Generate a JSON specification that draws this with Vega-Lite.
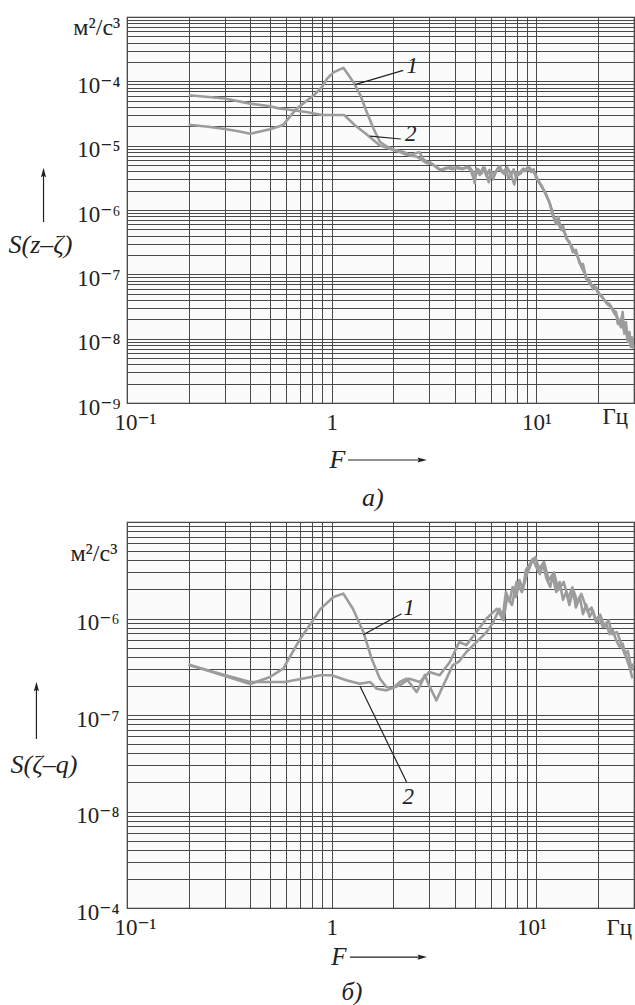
{
  "$schema": "https://vega.github.io/schema/vega-lite/v6.json",
  "padding": {"left": 7, "top": 9, "right": 0, "bottom": 0},
  "background": "white",
  "bounds": "flush",
  "spacing": 119,
  "config": {
    "view": {"stroke": "#333333", "strokeWidth": 1.2, "fill": "#fbfbfb"},
    "font": "Liberation Serif",
    "axis": {"grid": true, "gridColor": "#4a4a4a", "gridWidth": 1, "gridOpacity": 1, "ticks": false, "domain": false, "labelFont": "'Liberation Serif', 'DejaVu Serif', serif", "labelFontSize": 23, "labelColor": "#222222", "labelOverlap": false, "labelFlush": false}
  },
  "datasets": {
    "topCurves": [
      {"c": "1", "f": 0.2, "s": 2.12e-5}, {"c": "1", "f": 0.25, "s": 1.97e-5}, {"c": "1", "f": 0.3, "s": 1.82e-5}, {"c": "1", "f": 0.35, "s": 1.68e-5}, {"c": "1", "f": 0.4, "s": 1.53e-5}, {"c": "1", "f": 0.5, "s": 1.8e-5}, {"c": "1", "f": 0.58, "s": 2.1e-5}, {"c": "1", "f": 0.67, "s": 3.7e-5}, {"c": "1", "f": 0.75, "s": 4.9e-5}, {"c": "1", "f": 0.82, "s": 6.1e-5}, {"c": "1", "f": 0.9, "s": 8.3e-5}, {"c": "1", "f": 0.95, "s": 1.1e-4}, {"c": "1", "f": 1.02, "s": 1.38e-4}, {"c": "1", "f": 1.14, "s": 1.62e-4}, {"c": "1", "f": 1.22, "s": 1.2e-4}, {"c": "1", "f": 1.28, "s": 9.6e-5}, {"c": "1", "f": 1.38, "s": 6.1e-5}, {"c": "1", "f": 1.48, "s": 3.4e-5}, {"c": "1", "f": 1.6, "s": 1.85e-5}, {"c": "1", "f": 1.72, "s": 1.15e-5}, {"c": "1", "f": 1.85, "s": 9.8e-6}, {"c": "1", "f": 1.97, "s": 9.0e-6}, {"c": "1", "f": 2.1, "s": 8.3e-6}, {"c": "1", "f": 2.25, "s": 8.0e-6}, {"c": "1", "f": 2.43, "s": 7.1e-6}, {"c": "1", "f": 2.55, "s": 7.6e-6}, {"c": "1", "f": 2.69, "s": 7.9e-6}, {"c": "1", "f": 2.8, "s": 6.2e-6}, {"c": "1", "f": 2.91, "s": 5.6e-6}, {"c": "1", "f": 3.02, "s": 5.5e-6}, {"c": "1", "f": 3.14, "s": 5.0e-6}, {"c": "1", "f": 3.27, "s": 4.6e-6}, {"c": "1", "f": 3.39, "s": 4.15e-6}, {"c": "1", "f": 3.6, "s": 4.5e-6}, {"c": "1", "f": 3.78, "s": 4.6e-6}, {"c": "1", "f": 4.0, "s": 4.5e-6}, {"c": "1", "f": 4.22, "s": 4.4e-6}, {"c": "1", "f": 4.45, "s": 4.5e-6}, {"c": "1", "f": 4.73, "s": 4.6e-6}, {"c": "1", "f": 4.9, "s": 3.9e-6}, {"c": "1", "f": 5.0, "s": 2.6e-6}, {"c": "1", "f": 5.1, "s": 4.4e-6}, {"c": "1", "f": 5.29, "s": 3.5e-6}, {"c": "1", "f": 5.5, "s": 4.6e-6}, {"c": "1", "f": 5.7, "s": 3.4e-6}, {"c": "1", "f": 5.9, "s": 4.2e-6}, {"c": "1", "f": 6.14, "s": 3.0e-6}, {"c": "1", "f": 6.38, "s": 4.1e-6}, {"c": "1", "f": 6.62, "s": 4.8e-6}, {"c": "1", "f": 6.85, "s": 3.8e-6}, {"c": "1", "f": 7.11, "s": 4.4e-6}, {"c": "1", "f": 7.3, "s": 3.1e-6}, {"c": "1", "f": 7.54, "s": 3.5e-6}, {"c": "1", "f": 7.75, "s": 4.3e-6}, {"c": "1", "f": 7.93, "s": 3.3e-6}, {"c": "1", "f": 8.27, "s": 3.6e-6}, {"c": "1", "f": 8.5, "s": 4.2e-6}, {"c": "1", "f": 8.76, "s": 4.0e-6}, {"c": "1", "f": 9.1, "s": 4.7e-6}, {"c": "1", "f": 9.44, "s": 3.9e-6}, {"c": "1", "f": 9.7, "s": 4.3e-6}, {"c": "1", "f": 10.0, "s": 3.1e-6}, {"c": "1", "f": 10.6, "s": 2.4e-6}, {"c": "1", "f": 11.2, "s": 1.7e-6}, {"c": "1", "f": 11.7, "s": 1.2e-6}, {"c": "1", "f": 12.0, "s": 8.4e-7}, {"c": "1", "f": 12.5, "s": 6.0e-7}, {"c": "1", "f": 12.8, "s": 7.8e-7}, {"c": "1", "f": 13.2, "s": 4.9e-7}, {"c": "1", "f": 13.5, "s": 5.6e-7}, {"c": "1", "f": 14.0, "s": 3.6e-7}, {"c": "1", "f": 14.5, "s": 3.2e-7}, {"c": "1", "f": 15.1, "s": 2.2e-7}, {"c": "1", "f": 15.6, "s": 2.4e-7}, {"c": "1", "f": 16.3, "s": 1.46e-7}, {"c": "1", "f": 16.9, "s": 1.45e-7}, {"c": "1", "f": 17.5, "s": 8.5e-8}, {"c": "1", "f": 18.2, "s": 8.2e-8}, {"c": "1", "f": 18.9, "s": 5.9e-8}, {"c": "1", "f": 19.6, "s": 6.3e-8}, {"c": "1", "f": 20.4, "s": 4.8e-8}, {"c": "1", "f": 21.1, "s": 4.3e-8}, {"c": "1", "f": 21.9, "s": 3.7e-8}, {"c": "1", "f": 22.8, "s": 3.45e-8}, {"c": "1", "f": 23.6, "s": 2.8e-8}, {"c": "1", "f": 24.5, "s": 2.6e-8}, {"c": "1", "f": 25.0, "s": 1.7e-8}, {"c": "1", "f": 25.5, "s": 1.95e-8}, {"c": "1", "f": 25.9, "s": 1.5e-8}, {"c": "1", "f": 26.4, "s": 2.6e-8}, {"c": "1", "f": 26.9, "s": 1.2e-8}, {"c": "1", "f": 27.4, "s": 1.8e-8}, {"c": "1", "f": 28.0, "s": 8.9e-9}, {"c": "1", "f": 28.5, "s": 1.27e-8}, {"c": "1", "f": 29.0, "s": 7.4e-9}, {"c": "1", "f": 29.5, "s": 9.5e-9},
      {"c": "2", "f": 0.2, "s": 6.07e-5}, {"c": "2", "f": 0.25, "s": 5.7e-5}, {"c": "2", "f": 0.3, "s": 5.4e-5}, {"c": "2", "f": 0.4, "s": 4.5e-5}, {"c": "2", "f": 0.5, "s": 4.1e-5}, {"c": "2", "f": 0.55, "s": 3.8e-5}, {"c": "2", "f": 0.65, "s": 3.55e-5}, {"c": "2", "f": 0.75, "s": 3.33e-5}, {"c": "2", "f": 0.9, "s": 3.0e-5}, {"c": "2", "f": 1.0, "s": 3.0e-5}, {"c": "2", "f": 1.15, "s": 3.0e-5}, {"c": "2", "f": 1.3, "s": 2.07e-5}, {"c": "2", "f": 1.5, "s": 1.45e-5}, {"c": "2", "f": 1.72, "s": 1.01e-5}, {"c": "2", "f": 1.9, "s": 9.0e-6}, {"c": "2", "f": 2.15, "s": 8.0e-6}, {"c": "2", "f": 2.3, "s": 7.3e-6}, {"c": "2", "f": 2.43, "s": 7.0e-6}, {"c": "2", "f": 2.6, "s": 6.8e-6}, {"c": "2", "f": 2.75, "s": 6.0e-6}, {"c": "2", "f": 2.9, "s": 5.4e-6}, {"c": "2", "f": 3.1, "s": 5.2e-6}, {"c": "2", "f": 3.3, "s": 4.4e-6}, {"c": "2", "f": 3.5, "s": 4.2e-6}, {"c": "2", "f": 3.7, "s": 4.5e-6}, {"c": "2", "f": 3.9, "s": 4.3e-6}, {"c": "2", "f": 4.1, "s": 4.7e-6}, {"c": "2", "f": 4.35, "s": 4.3e-6}, {"c": "2", "f": 4.6, "s": 4.7e-6}, {"c": "2", "f": 4.8, "s": 4.0e-6}, {"c": "2", "f": 4.95, "s": 3.0e-6}, {"c": "2", "f": 5.2, "s": 4.3e-6}, {"c": "2", "f": 5.4, "s": 3.7e-6}, {"c": "2", "f": 5.6, "s": 4.5e-6}, {"c": "2", "f": 5.85, "s": 2.7e-6}, {"c": "2", "f": 6.0, "s": 4.0e-6}, {"c": "2", "f": 6.25, "s": 3.6e-6}, {"c": "2", "f": 6.5, "s": 4.5e-6}, {"c": "2", "f": 6.75, "s": 4.0e-6}, {"c": "2", "f": 7.0, "s": 3.6e-6}, {"c": "2", "f": 7.2, "s": 4.6e-6}, {"c": "2", "f": 7.45, "s": 3.8e-6}, {"c": "2", "f": 7.8, "s": 2.5e-6}, {"c": "2", "f": 8.1, "s": 3.9e-6}, {"c": "2", "f": 8.4, "s": 3.7e-6}, {"c": "2", "f": 8.65, "s": 4.4e-6}, {"c": "2", "f": 8.95, "s": 4.1e-6}, {"c": "2", "f": 9.3, "s": 4.5e-6}, {"c": "2", "f": 9.6, "s": 4.0e-6}, {"c": "2", "f": 9.9, "s": 3.6e-6}, {"c": "2", "f": 10.3, "s": 2.7e-6}, {"c": "2", "f": 10.9, "s": 2.0e-6}, {"c": "2", "f": 11.5, "s": 1.4e-6}, {"c": "2", "f": 11.9, "s": 1.0e-6}, {"c": "2", "f": 12.3, "s": 7.2e-7}, {"c": "2", "f": 12.7, "s": 7.0e-7}, {"c": "2", "f": 13.0, "s": 5.5e-7}, {"c": "2", "f": 13.4, "s": 5.0e-7}, {"c": "2", "f": 13.8, "s": 4.3e-7}, {"c": "2", "f": 14.3, "s": 3.3e-7}, {"c": "2", "f": 14.8, "s": 2.8e-7}, {"c": "2", "f": 15.3, "s": 2.3e-7}, {"c": "2", "f": 15.9, "s": 1.9e-7}, {"c": "2", "f": 16.6, "s": 1.3e-7}, {"c": "2", "f": 17.2, "s": 1.05e-7}, {"c": "2", "f": 17.8, "s": 8.0e-8}, {"c": "2", "f": 18.5, "s": 6.8e-8}, {"c": "2", "f": 19.2, "s": 6.6e-8}, {"c": "2", "f": 20.0, "s": 5.2e-8}, {"c": "2", "f": 20.8, "s": 4.6e-8}, {"c": "2", "f": 21.5, "s": 4.0e-8}, {"c": "2", "f": 22.3, "s": 3.4e-8}, {"c": "2", "f": 23.2, "s": 3.1e-8}, {"c": "2", "f": 24.0, "s": 2.5e-8}, {"c": "2", "f": 24.8, "s": 2.2e-8}, {"c": "2", "f": 25.3, "s": 1.8e-8}, {"c": "2", "f": 25.7, "s": 1.6e-8}, {"c": "2", "f": 26.2, "s": 2.2e-8}, {"c": "2", "f": 26.7, "s": 1.4e-8}, {"c": "2", "f": 27.2, "s": 1.6e-8}, {"c": "2", "f": 27.8, "s": 1.0e-8}, {"c": "2", "f": 28.3, "s": 1.1e-8}, {"c": "2", "f": 28.8, "s": 8.0e-9}, {"c": "2", "f": 29.3, "s": 1.05e-8}, {"c": "2", "f": 29.8, "s": 7.0e-9}
    ],
    "botCurves": [
      {"c": "1", "f": 0.2, "s": 3.33e-7}, {"c": "1", "f": 0.28, "s": 2.66e-7}, {"c": "1", "f": 0.4, "s": 2.09e-7}, {"c": "1", "f": 0.5, "s": 2.48e-7}, {"c": "1", "f": 0.58, "s": 3.02e-7}, {"c": "1", "f": 0.7, "s": 6.1e-7}, {"c": "1", "f": 0.79, "s": 8.8e-7}, {"c": "1", "f": 0.88, "s": 1.25e-6}, {"c": "1", "f": 1.02, "s": 1.67e-6}, {"c": "1", "f": 1.14, "s": 1.81e-6}, {"c": "1", "f": 1.27, "s": 1.26e-6}, {"c": "1", "f": 1.43, "s": 7.2e-7}, {"c": "1", "f": 1.57, "s": 3.8e-7}, {"c": "1", "f": 1.72, "s": 2.38e-7}, {"c": "1", "f": 1.85, "s": 1.95e-7}, {"c": "1", "f": 2.0, "s": 1.9e-7}, {"c": "1", "f": 2.15, "s": 2.2e-7}, {"c": "1", "f": 2.32, "s": 2.38e-7}, {"c": "1", "f": 2.47, "s": 2.0e-7}, {"c": "1", "f": 2.6, "s": 1.73e-7}, {"c": "1", "f": 2.73, "s": 2.1e-7}, {"c": "1", "f": 2.85, "s": 2.6e-7}, {"c": "1", "f": 3.0, "s": 2.0e-7}, {"c": "1", "f": 3.25, "s": 1.42e-7}, {"c": "1", "f": 3.42, "s": 1.8e-7}, {"c": "1", "f": 3.64, "s": 2.38e-7}, {"c": "1", "f": 3.9, "s": 3.27e-7}, {"c": "1", "f": 4.2, "s": 3.6e-7}, {"c": "1", "f": 4.55, "s": 4.5e-7}, {"c": "1", "f": 5.1, "s": 5.7e-7}, {"c": "1", "f": 5.7, "s": 7.2e-7}, {"c": "1", "f": 6.1, "s": 8.8e-7}, {"c": "1", "f": 6.6, "s": 1.26e-6}, {"c": "1", "f": 6.85, "s": 1.04e-6}, {"c": "1", "f": 7.1, "s": 1.88e-6}, {"c": "1", "f": 7.4, "s": 1.5e-6}, {"c": "1", "f": 7.66, "s": 2.12e-6}, {"c": "1", "f": 7.97, "s": 1.67e-6}, {"c": "1", "f": 8.27, "s": 2.5e-6}, {"c": "1", "f": 8.6, "s": 2.0e-6}, {"c": "1", "f": 8.9, "s": 3.2e-6}, {"c": "1", "f": 9.3, "s": 3.67e-6}, {"c": "1", "f": 9.6, "s": 4.14e-6}, {"c": "1", "f": 10.0, "s": 3.4e-6}, {"c": "1", "f": 10.4, "s": 2.89e-6}, {"c": "1", "f": 10.8, "s": 3.6e-6}, {"c": "1", "f": 11.2, "s": 2.6e-6}, {"c": "1", "f": 11.7, "s": 2.12e-6}, {"c": "1", "f": 12.0, "s": 2.8e-6}, {"c": "1", "f": 12.5, "s": 1.88e-6}, {"c": "1", "f": 13.0, "s": 2.39e-6}, {"c": "1", "f": 13.5, "s": 1.56e-6}, {"c": "1", "f": 14.0, "s": 1.9e-6}, {"c": "1", "f": 14.5, "s": 1.38e-6}, {"c": "1", "f": 15.1, "s": 1.97e-6}, {"c": "1", "f": 15.6, "s": 1.3e-6}, {"c": "1", "f": 16.3, "s": 1.67e-6}, {"c": "1", "f": 16.9, "s": 1.11e-6}, {"c": "1", "f": 17.5, "s": 1.4e-6}, {"c": "1", "f": 18.2, "s": 1.04e-6}, {"c": "1", "f": 18.9, "s": 1.2e-6}, {"c": "1", "f": 19.6, "s": 9.2e-7}, {"c": "1", "f": 20.4, "s": 1.0e-6}, {"c": "1", "f": 21.1, "s": 8.2e-7}, {"c": "1", "f": 21.9, "s": 9.0e-7}, {"c": "1", "f": 22.8, "s": 6.9e-7}, {"c": "1", "f": 23.6, "s": 7.6e-7}, {"c": "1", "f": 24.5, "s": 6.0e-7}, {"c": "1", "f": 25.5, "s": 5.1e-7}, {"c": "1", "f": 26.4, "s": 5.5e-7}, {"c": "1", "f": 27.4, "s": 4.0e-7}, {"c": "1", "f": 28.5, "s": 3.15e-7}, {"c": "1", "f": 29.5, "s": 2.4e-7},
      {"c": "2", "f": 0.2, "s": 3.3e-7}, {"c": "2", "f": 0.4, "s": 2.2e-7}, {"c": "2", "f": 0.59, "s": 2.2e-7}, {"c": "2", "f": 0.88, "s": 2.58e-7}, {"c": "2", "f": 1.0, "s": 2.58e-7}, {"c": "2", "f": 1.18, "s": 2.29e-7}, {"c": "2", "f": 1.37, "s": 2.11e-7}, {"c": "2", "f": 1.54, "s": 2.2e-7}, {"c": "2", "f": 1.66, "s": 1.87e-7}, {"c": "2", "f": 1.85, "s": 1.8e-7}, {"c": "2", "f": 2.15, "s": 2.03e-7}, {"c": "2", "f": 2.4, "s": 2.38e-7}, {"c": "2", "f": 2.7, "s": 2.2e-7}, {"c": "2", "f": 3.0, "s": 2.79e-7}, {"c": "2", "f": 3.37, "s": 2.58e-7}, {"c": "2", "f": 3.78, "s": 3.54e-7}, {"c": "2", "f": 4.2, "s": 5.7e-7}, {"c": "2", "f": 4.55, "s": 5.3e-7}, {"c": "2", "f": 5.1, "s": 7.24e-7}, {"c": "2", "f": 5.7, "s": 9.95e-7}, {"c": "2", "f": 6.4, "s": 1.26e-6}, {"c": "2", "f": 6.9, "s": 9.6e-7}, {"c": "2", "f": 7.2, "s": 1.67e-6}, {"c": "2", "f": 7.6, "s": 1.38e-6}, {"c": "2", "f": 8.0, "s": 2.39e-6}, {"c": "2", "f": 8.5, "s": 1.88e-6}, {"c": "2", "f": 9.0, "s": 2.89e-6}, {"c": "2", "f": 9.5, "s": 3.85e-6}, {"c": "2", "f": 9.9, "s": 4.33e-6}, {"c": "2", "f": 10.3, "s": 3.27e-6}, {"c": "2", "f": 10.9, "s": 3.85e-6}, {"c": "2", "f": 11.5, "s": 2.5e-6}, {"c": "2", "f": 12.2, "s": 3.0e-6}, {"c": "2", "f": 12.8, "s": 1.97e-6}, {"c": "2", "f": 13.6, "s": 2.39e-6}, {"c": "2", "f": 14.3, "s": 1.63e-6}, {"c": "2", "f": 15.0, "s": 2.1e-6}, {"c": "2", "f": 15.9, "s": 1.48e-6}, {"c": "2", "f": 16.6, "s": 1.8e-6}, {"c": "2", "f": 17.8, "s": 1.17e-6}, {"c": "2", "f": 18.6, "s": 1.3e-6}, {"c": "2", "f": 19.5, "s": 9.65e-7}, {"c": "2", "f": 20.5, "s": 1.1e-6}, {"c": "2", "f": 21.5, "s": 8.2e-7}, {"c": "2", "f": 22.5, "s": 9.6e-7}, {"c": "2", "f": 23.5, "s": 6.9e-7}, {"c": "2", "f": 24.8, "s": 7.2e-7}, {"c": "2", "f": 26.0, "s": 5.46e-7}, {"c": "2", "f": 27.0, "s": 4.28e-7}, {"c": "2", "f": 28.0, "s": 4.6e-7}, {"c": "2", "f": 29.2, "s": 2.94e-7}, {"c": "2", "f": 29.8, "s": 3.4e-7}
    ],
    "topNotes": [
      {"t": "1", "f": 2.478, "s": 1.73e-4, "k": "c"},
      {"t": "2", "f": 2.437, "s": 1.53e-5, "k": "c"},
      {"t": "F", "f": 1.067, "s": 1.3e-10, "k": "b"},
      {"t": "a)", "f": 1.59, "s": 3.33e-11, "k": "b"},
      {"t": "S(z–ζ)", "f": 0.02636, "s": 2.86e-7, "k": "l"},
      {"t": "м²/с³", "f": 0.0927, "s": 6.74e-4, "k": "r"}
    ],
    "topRules": [
      {"f": 1.3, "s": 8.87e-5, "f2": 2.236, "s2": 1.48e-4},
      {"f": 1.538, "s": 1.41e-5, "f2": 2.178, "s2": 1.27e-5},
      {"f": 0.0391, "s": 6.5e-7, "f2": 0.0391, "s2": 3.63e-6},
      {"f": 1.201, "s": 1.3e-10, "f2": 2.727, "s2": 1.3e-10}
    ],
    "topHeads": [
      {"f": 0.0391, "s": 3.63e-6, "d": "up"},
      {"f": 2.727, "s": 1.3e-10, "d": "right"}
    ],
    "botNotes": [
      {"t": "1", "f": 2.384, "s": 1.285e-6, "k": "c"},
      {"t": "2", "f": 2.364, "s": 1.41e-8, "k": "c"},
      {"t": "F", "f": 1.085, "s": 3.1e-10, "k": "b"},
      {"t": "б)", "f": 1.256, "s": 1.34e-10, "k": "b"},
      {"t": "S(ζ–q)", "f": 0.027, "s": 3.03e-8, "k": "l"},
      {"t": "м²/с³", "f": 0.0897, "s": 4.66e-6, "k": "r"}
    ],
    "botRules": [
      {"f": 1.426, "s": 6.79e-7, "f2": 2.195, "s2": 1.12e-6},
      {"f": 1.374, "s": 2.0e-7, "f2": 2.322, "s2": 2.02e-8},
      {"f": 0.0361, "s": 5.64e-8, "f2": 0.0361, "s2": 1.905e-7},
      {"f": 1.228, "s": 3.1e-10, "f2": 2.727, "s2": 3.1e-10}
    ],
    "botHeads": [
      {"f": 0.0361, "s": 1.905e-7, "d": "up"},
      {"f": 2.727, "s": 3.1e-10, "d": "right"}
    ]
  },
  "vconcat": [
    {
      "width": 507,
      "height": 386,
      "layer": [
        {
          "data": {"name": "topCurves"},
          "mark": {"type": "line", "color": "#9c9c9c", "strokeWidth": 2.6, "strokeJoin": "round"},
          "encoding": {
            "x": {"field": "f", "type": "quantitative", "scale": {"type": "log", "domain": [0.1, 30], "nice": false},
              "axis": {"title": null, "values": [0.1, 0.2, 0.3, 0.4, 0.5, 0.6, 0.7, 0.8, 0.9, 1, 2, 3, 4, 5, 6, 7, 8, 9, 10, 20, 30],
                "labelExpr": "datum.value == 0.1 ? '10⁻¹' : datum.value == 1 ? '1' : datum.value == 10 ? '10¹' : datum.value == 20 ? 'Гц' : ''",
                "labelBaseline": "top",
                "labelAlign": {"condition": {"test": "datum.value == 20", "value": "left"}, "value": "center"},
                "labelOffset": {"condition": [{"test": "datum.value == 0.1", "value": 8}, {"test": "datum.value == 20", "value": 4}], "value": 0},
                "labelPadding": {"condition": {"test": "datum.value == 20", "value": 2}, "value": 8}}},
            "y": {"field": "s", "type": "quantitative", "scale": {"type": "log", "domain": [1e-9, 1e-3], "nice": false},
              "axis": {"title": null, "values": [1e-9, 2e-9, 3e-9, 4e-9, 5e-9, 6e-9, 7e-9, 8e-9, 9e-9, 1e-8, 2e-8, 3e-8, 4e-8, 5e-8, 6e-8, 7e-8, 8e-8, 9e-8, 1e-7, 2e-7, 3e-7, 4e-7, 5e-7, 6e-7, 7e-7, 8e-7, 9e-7, 1e-6, 2e-6, 3e-6, 4e-6, 5e-6, 6e-6, 7e-6, 8e-6, 9e-6, 1e-5, 2e-5, 3e-5, 4e-5, 5e-5, 6e-5, 7e-5, 8e-5, 9e-5, 1e-4, 2e-4, 3e-4, 4e-4, 5e-4, 6e-4, 7e-4, 8e-4, 9e-4, 1e-3],
                "labelExpr": "datum.value == 1e-4 ? '10⁻⁴' : datum.value == 1e-5 ? '10⁻⁵' : datum.value == 1e-6 ? '10⁻⁶' : datum.value == 1e-7 ? '10⁻⁷' : datum.value == 1e-8 ? '10⁻⁸' : datum.value == 1e-9 ? '10⁻⁹' : ''",
                "labelBaseline": "alphabetic", "labelOffset": 11, "labelPadding": 7}},
            "detail": {"field": "c", "type": "nominal"}
          }
        },
        {
          "data": {"name": "topRules"},
          "mark": {"type": "rule", "color": "#222222", "strokeWidth": 1.2, "clip": false},
          "encoding": {
            "x": {"field": "f", "type": "quantitative", "scale": {"type": "log", "domain": [0.1, 30], "nice": false}},
            "y": {"field": "s", "type": "quantitative", "scale": {"type": "log", "domain": [1e-9, 1e-3], "nice": false}},
            "x2": {"field": "f2"},
            "y2": {"field": "s2"}
          }
        },
        {
          "data": {"name": "topHeads"},
          "transform": [{"filter": "datum.d == 'up'"}],
          "mark": {"type": "point", "shape": "M0,-1L0.42,0.55L0,0.3L-0.42,0.55Z", "size": 150, "filled": true, "color": "#222222", "opacity": 1, "clip": false},
          "encoding": {
            "x": {"field": "f", "type": "quantitative", "scale": {"type": "log", "domain": [0.1, 30], "nice": false}},
            "y": {"field": "s", "type": "quantitative", "scale": {"type": "log", "domain": [1e-9, 1e-3], "nice": false}}
          }
        },
        {
          "data": {"name": "topHeads"},
          "transform": [{"filter": "datum.d == 'right'"}],
          "mark": {"type": "point", "shape": "M1,0L-0.55,0.42L-0.3,0L-0.55,-0.42Z", "size": 150, "filled": true, "color": "#222222", "opacity": 1, "clip": false},
          "encoding": {
            "x": {"field": "f", "type": "quantitative", "scale": {"type": "log", "domain": [0.1, 30], "nice": false}},
            "y": {"field": "s", "type": "quantitative", "scale": {"type": "log", "domain": [1e-9, 1e-3], "nice": false}}
          }
        },
        {
          "data": {"name": "topNotes"},
          "transform": [{"filter": "datum.k == 'c'"}],
          "mark": {"type": "text", "font": "Liberation Serif", "fontSize": 23, "fontStyle": "italic", "align": "center", "baseline": "middle", "color": "#222222", "clip": false},
          "encoding": {
            "x": {"field": "f", "type": "quantitative", "scale": {"type": "log", "domain": [0.1, 30], "nice": false}},
            "y": {"field": "s", "type": "quantitative", "scale": {"type": "log", "domain": [1e-9, 1e-3], "nice": false}},
            "text": {"field": "t"}
          }
        },
        {
          "data": {"name": "topNotes"},
          "transform": [{"filter": "datum.k == 'b'"}],
          "mark": {"type": "text", "font": "Liberation Serif", "fontSize": 26, "fontStyle": "italic", "align": "center", "baseline": "middle", "color": "#222222", "clip": false},
          "encoding": {
            "x": {"field": "f", "type": "quantitative", "scale": {"type": "log", "domain": [0.1, 30], "nice": false}},
            "y": {"field": "s", "type": "quantitative", "scale": {"type": "log", "domain": [1e-9, 1e-3], "nice": false}},
            "text": {"field": "t"}
          }
        },
        {
          "data": {"name": "topNotes"},
          "transform": [{"filter": "datum.k == 'l'"}],
          "mark": {"type": "text", "font": "Liberation Serif", "fontSize": 26, "fontStyle": "italic", "align": "left", "baseline": "middle", "color": "#222222", "clip": false},
          "encoding": {
            "x": {"field": "f", "type": "quantitative", "scale": {"type": "log", "domain": [0.1, 30], "nice": false}},
            "y": {"field": "s", "type": "quantitative", "scale": {"type": "log", "domain": [1e-9, 1e-3], "nice": false}},
            "text": {"field": "t"}
          }
        },
        {
          "data": {"name": "topNotes"},
          "transform": [{"filter": "datum.k == 'r'"}],
          "mark": {"type": "text", "font": "Liberation Serif", "fontSize": 24, "align": "right", "baseline": "middle", "color": "#222222", "clip": false},
          "encoding": {
            "x": {"field": "f", "type": "quantitative", "scale": {"type": "log", "domain": [0.1, 30], "nice": false}},
            "y": {"field": "s", "type": "quantitative", "scale": {"type": "log", "domain": [1e-9, 1e-3], "nice": false}},
            "text": {"field": "t"}
          }
        }
      ]
    },
    {
      "width": 507,
      "height": 386,
      "layer": [
        {
          "data": {"name": "botCurves"},
          "mark": {"type": "line", "color": "#9c9c9c", "strokeWidth": 2.6, "strokeJoin": "round"},
          "encoding": {
            "x": {"field": "f", "type": "quantitative", "scale": {"type": "log", "domain": [0.1, 30], "nice": false},
              "axis": {"title": null, "values": [0.1, 0.2, 0.3, 0.4, 0.5, 0.6, 0.7, 0.8, 0.9, 1, 2, 3, 4, 5, 6, 7, 8, 9, 10, 20, 30],
                "labelExpr": "datum.value == 0.1 ? '10⁻¹' : datum.value == 1 ? '1' : datum.value == 10 ? '10¹' : datum.value == 20 ? 'Гц' : ''",
                "labelBaseline": "top",
                "labelAlign": {"condition": {"test": "datum.value == 20", "value": "left"}, "value": "center"},
                "labelOffset": {"condition": [{"test": "datum.value == 0.1", "value": 8}, {"test": "datum.value == 20", "value": 8}, {"test": "datum.value == 10", "value": -5}], "value": 0},
                "labelPadding": 8}},
            "y": {"field": "s", "type": "quantitative", "scale": {"type": "log", "domain": [1e-9, 1e-5], "nice": false},
              "axis": {"title": null, "values": [1e-9, 2e-9, 3e-9, 4e-9, 5e-9, 6e-9, 7e-9, 8e-9, 9e-9, 1e-8, 2e-8, 3e-8, 4e-8, 5e-8, 6e-8, 7e-8, 8e-8, 9e-8, 1e-7, 2e-7, 3e-7, 4e-7, 5e-7, 6e-7, 7e-7, 8e-7, 9e-7, 1e-6, 2e-6, 3e-6, 4e-6, 5e-6, 6e-6, 7e-6, 8e-6, 9e-6, 1e-5],
                "labelExpr": "datum.value == 1e-6 ? '10⁻⁶' : datum.value == 1e-7 ? '10⁻⁷' : datum.value == 1e-8 ? '10⁻⁸' : datum.value == 1e-9 ? '10⁻⁴' : ''",
                "labelBaseline": "alphabetic", "labelOffset": 11, "labelPadding": 8}},
            "detail": {"field": "c", "type": "nominal"}
          }
        },
        {
          "data": {"name": "botRules"},
          "mark": {"type": "rule", "color": "#222222", "strokeWidth": 1.2, "clip": false},
          "encoding": {
            "x": {"field": "f", "type": "quantitative", "scale": {"type": "log", "domain": [0.1, 30], "nice": false}},
            "y": {"field": "s", "type": "quantitative", "scale": {"type": "log", "domain": [1e-9, 1e-5], "nice": false}},
            "x2": {"field": "f2"},
            "y2": {"field": "s2"}
          }
        },
        {
          "data": {"name": "botHeads"},
          "transform": [{"filter": "datum.d == 'up'"}],
          "mark": {"type": "point", "shape": "M0,-1L0.42,0.55L0,0.3L-0.42,0.55Z", "size": 150, "filled": true, "color": "#222222", "opacity": 1, "clip": false},
          "encoding": {
            "x": {"field": "f", "type": "quantitative", "scale": {"type": "log", "domain": [0.1, 30], "nice": false}},
            "y": {"field": "s", "type": "quantitative", "scale": {"type": "log", "domain": [1e-9, 1e-5], "nice": false}}
          }
        },
        {
          "data": {"name": "botHeads"},
          "transform": [{"filter": "datum.d == 'right'"}],
          "mark": {"type": "point", "shape": "M1,0L-0.55,0.42L-0.3,0L-0.55,-0.42Z", "size": 150, "filled": true, "color": "#222222", "opacity": 1, "clip": false},
          "encoding": {
            "x": {"field": "f", "type": "quantitative", "scale": {"type": "log", "domain": [0.1, 30], "nice": false}},
            "y": {"field": "s", "type": "quantitative", "scale": {"type": "log", "domain": [1e-9, 1e-5], "nice": false}}
          }
        },
        {
          "data": {"name": "botNotes"},
          "transform": [{"filter": "datum.k == 'c'"}],
          "mark": {"type": "text", "font": "Liberation Serif", "fontSize": 23, "fontStyle": "italic", "align": "center", "baseline": "middle", "color": "#222222", "clip": false},
          "encoding": {
            "x": {"field": "f", "type": "quantitative", "scale": {"type": "log", "domain": [0.1, 30], "nice": false}},
            "y": {"field": "s", "type": "quantitative", "scale": {"type": "log", "domain": [1e-9, 1e-5], "nice": false}},
            "text": {"field": "t"}
          }
        },
        {
          "data": {"name": "botNotes"},
          "transform": [{"filter": "datum.k == 'b'"}],
          "mark": {"type": "text", "font": "Liberation Serif", "fontSize": 25, "fontStyle": "italic", "align": "center", "baseline": "middle", "color": "#222222", "clip": false},
          "encoding": {
            "x": {"field": "f", "type": "quantitative", "scale": {"type": "log", "domain": [0.1, 30], "nice": false}},
            "y": {"field": "s", "type": "quantitative", "scale": {"type": "log", "domain": [1e-9, 1e-5], "nice": false}},
            "text": {"field": "t"}
          }
        },
        {
          "data": {"name": "botNotes"},
          "transform": [{"filter": "datum.k == 'l'"}],
          "mark": {"type": "text", "font": "Liberation Serif", "fontSize": 26, "fontStyle": "italic", "align": "left", "baseline": "middle", "color": "#222222", "clip": false},
          "encoding": {
            "x": {"field": "f", "type": "quantitative", "scale": {"type": "log", "domain": [0.1, 30], "nice": false}},
            "y": {"field": "s", "type": "quantitative", "scale": {"type": "log", "domain": [1e-9, 1e-5], "nice": false}},
            "text": {"field": "t"}
          }
        },
        {
          "data": {"name": "botNotes"},
          "transform": [{"filter": "datum.k == 'r'"}],
          "mark": {"type": "text", "font": "Liberation Serif", "fontSize": 24, "align": "right", "baseline": "middle", "color": "#222222", "clip": false},
          "encoding": {
            "x": {"field": "f", "type": "quantitative", "scale": {"type": "log", "domain": [0.1, 30], "nice": false}},
            "y": {"field": "s", "type": "quantitative", "scale": {"type": "log", "domain": [1e-9, 1e-5], "nice": false}},
            "text": {"field": "t"}
          }
        }
      ]
    }
  ]
}
